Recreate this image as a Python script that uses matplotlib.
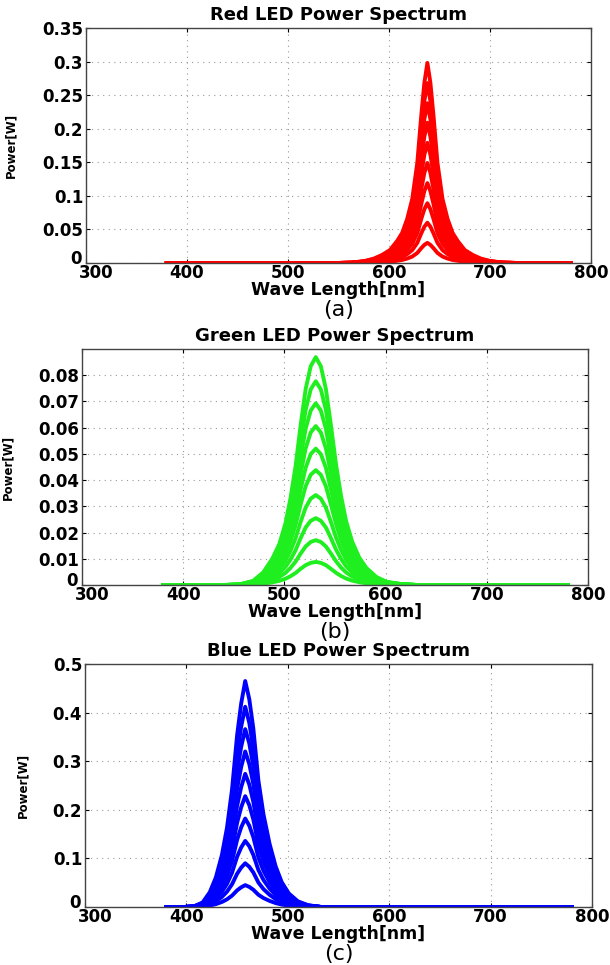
import numpy as np
import matplotlib
matplotlib.use('Agg')
import matplotlib.pyplot as plt
import matplotlib.transforms as mtransforms

# peak wavelengths (nm)
red_peak_nm = 638
green_peak_nm = 531
blue_peak_nm = 458

# peak powers of each curve [W]
red_peaks = [0.030, 0.060, 0.089, 0.119, 0.149, 0.179, 0.209, 0.238, 0.268, 0.298]
green_peaks = [0.0088, 0.0171, 0.0255, 0.0343, 0.0438, 0.0520, 0.0606, 0.0693, 0.0777, 0.0869]
blue_peaks = [0.045, 0.090, 0.136, 0.182, 0.228, 0.274, 0.320, 0.366, 0.412, 0.465]

# normalised line shapes (offset from peak in nm, relative power)
red_offsets = [-90, -75, -62, -53, -45, -37, -30, -25, -20, -15, -10, -6, -3, 0,
               3, 6, 10, 15, 20, 25, 30, 37, 45, 53, 62, 75, 90]
red_shape = [0, 0.002, 0.01, 0.022, 0.04, 0.065, 0.11, 0.15, 0.22, 0.32, 0.5, 0.74, 0.9, 1,
             0.9, 0.74, 0.5, 0.32, 0.22, 0.15, 0.11, 0.065, 0.04, 0.022, 0.01, 0.002, 0]

green_offsets = [-90, -75, -62, -52, -43, -36, -30, -25, -20, -15, -10, -5, 0,
                 5, 10, 15, 20, 25, 30, 36, 43, 50, 60, 70, 85, 100]
green_shape = [0, 0.003, 0.018, 0.055, 0.115, 0.18, 0.27, 0.38, 0.52, 0.7, 0.86, 0.96, 1,
               0.96, 0.86, 0.7, 0.53, 0.39, 0.28, 0.19, 0.12, 0.075, 0.035, 0.014, 0.004, 0]

blue_offsets = [-60, -50, -42, -35, -29, -23, -18, -13, -8, -4, 0,
                4, 8, 13, 18, 24, 30, 36, 43, 52, 62, 75]
blue_shape = [0, 0.004, 0.02, 0.065, 0.13, 0.23, 0.35, 0.52, 0.76, 0.9, 1,
              0.92, 0.79, 0.56, 0.41, 0.28, 0.18, 0.11, 0.06, 0.025, 0.008, 0]

span_nm = [380, 780]
xticks = [300, 400, 500, 600, 700, 800]

panels = [
    dict(title='Red LED Power Spectrum', tag='(a)', color='#ff0000',
         peak=red_peak_nm, peaks=red_peaks, offs=red_offsets, shape=red_shape,
         ylim=0.35, yticks=[0, 0.05, 0.1, 0.15, 0.2, 0.25, 0.3, 0.35],
         ylabels=['0', '0.05', '0.1', '0.15', '0.2', '0.25', '0.3', '0.35'],
         rect=[86, 28, 591, 263], ylab_x=17.5),
    dict(title='Green LED Power Spectrum', tag='(b)', color='#1fef1f',
         peak=green_peak_nm, peaks=green_peaks, offs=green_offsets, shape=green_shape,
         ylim=0.09, yticks=[0, 0.01, 0.02, 0.03, 0.04, 0.05, 0.06, 0.07, 0.08],
         ylabels=['0', '0.01', '0.02', '0.03', '0.04', '0.05', '0.06', '0.07', '0.08'],
         rect=[82, 349, 588, 585], ylab_x=14),
    dict(title='Blue LED Power Spectrum', tag='(c)', color='#0000ff',
         peak=blue_peak_nm, peaks=blue_peaks, offs=blue_offsets, shape=blue_shape,
         ylim=0.5, yticks=[0, 0.1, 0.2, 0.3, 0.4, 0.5],
         ylabels=['0', '0.1', '0.2', '0.3', '0.4', '0.5'],
         rect=[85, 664, 592, 907], ylab_x=29),
]

W, H = 610, 965
fig = plt.figure(figsize=(W / 100, H / 100), dpi=100)

def nudge(label, dx, dy):
    label.set_transform(label.get_transform() +
                        mtransforms.ScaledTranslation(dx / 100, dy / 100, fig.dpi_scale_trans))

for p in panels:
    x0, y0, x1, y1 = p['rect']
    ax = fig.add_axes([x0 / W, 1 - y1 / H, (x1 - x0) / W, (y1 - y0) / H])

    wl = np.concatenate(([span_nm[0]], p['peak'] + np.array(p['offs']), [span_nm[1]]))
    for pk in p['peaks']:
        pw = np.concatenate(([0], pk * np.array(p['shape']), [0]))
        ax.plot(wl, pw, color=p['color'], lw=2.8, solid_joinstyle='round')

    ax.set_xlim(300, 800)
    ax.set_ylim(0, p['ylim'])
    ax.set_xticks(xticks)
    ax.set_yticks(p['yticks'])
    ax.set_yticklabels(p['ylabels'])
    ax.grid(True, linestyle=(0, (1, 4)), color='#999999', lw=0.8)
    ax.tick_params(direction='in', top=True, right=True, length=3, width=0.8,
                   labelsize=12, pad=2)
    ax.tick_params(axis='x', pad=1)
    for lab in ax.get_xticklabels() + ax.get_yticklabels():
        lab.set_fontweight('bold')
    # MATLAB-style corner: "0" sits just above, "300" pushed a bit right
    nudge(ax.get_yticklabels()[0], -1, 6)
    nudge(ax.get_xticklabels()[0], 10, 0)
    for s in ax.spines.values():
        s.set_color('#444444')
        s.set_linewidth(1.0)

    ax.set_title(p['title'], fontsize=13, fontweight='bold', pad=6)
    ax.set_xlabel('Wave Length[nm]', fontsize=12.5, fontweight='bold', labelpad=-1)
    ax.set_ylabel('Power[W]', fontsize=8.5, fontweight='bold')
    ax.yaxis.set_label_coords((p['ylab_x'] - x0) / (x1 - x0), 0.5)
    ax.text(0.5, -(47) / (y1 - y0), p['tag'], transform=ax.transAxes,
            ha='center', va='center', fontsize=16)

fig.savefig('out.png', dpi=100)
